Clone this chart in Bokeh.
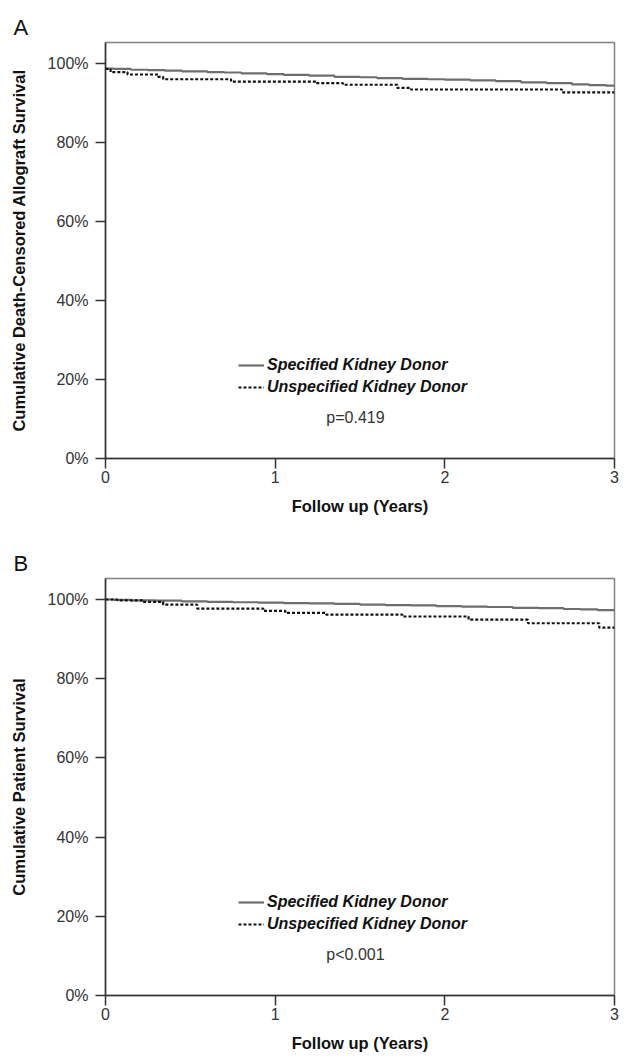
from bokeh.plotting import figure
from bokeh.layouts import column
from bokeh.models import (Range1d, FixedTicker, PrintfTickFormatter, Label,
                          Legend, LegendItem, Title)
from bokeh.embed import file_html
from bokeh.resources import INLINE

FONT = "Liberation Sans"

# ---------------- data (percent survival vs years) ----------------
x_ticks = [0, 1, 2, 3]
y_ticks = [0, 20, 40, 60, 80, 100]

# Panel A: death-censored allograft survival
a_spec_t = [0, 0.05, 0.15, 0.25, 0.35, 0.45, 0.6, 0.7, 0.8, 0.95, 1.05, 1.2, 1.35,
            1.5, 1.6, 1.75, 1.9, 2.0, 2.15, 2.3, 2.45, 2.6, 2.75, 2.85, 2.95, 3.0]
a_spec_s = [98.7, 98.6, 98.4, 98.3, 98.2, 98.0, 97.8, 97.7, 97.5, 97.3, 97.1, 96.9, 96.6,
            96.5, 96.3, 96.1, 96.0, 95.9, 95.7, 95.5, 95.2, 95.0, 94.7, 94.5, 94.4, 94.3]
a_unsp_t = [0, 0.03, 0.13, 0.31, 0.34, 0.74, 1.24, 1.40, 1.72, 1.80, 2.69, 3.0]
a_unsp_s = [98.6, 97.8, 97.2, 96.6, 96.0, 95.4, 95.0, 94.6, 93.8, 93.4, 92.7, 92.7]

# Panel B: patient survival
b_spec_t = [0, 0.05, 0.15, 0.3, 0.45, 0.6, 0.75, 0.9, 1.05, 1.2, 1.35, 1.5, 1.65,
            1.8, 1.95, 2.1, 2.25, 2.4, 2.55, 2.7, 2.8, 2.9, 3.0]
b_spec_s = [100, 99.9, 99.8, 99.7, 99.5, 99.4, 99.3, 99.2, 99.1, 99.0, 98.9, 98.7, 98.6,
            98.5, 98.3, 98.2, 98.1, 97.9, 97.8, 97.6, 97.5, 97.3, 97.2]
b_unsp_t = [0, 0.07, 0.22, 0.34, 0.54, 0.93, 1.06, 1.30, 1.75, 2.14, 2.49, 2.91, 3.0]
b_unsp_s = [100, 99.8, 99.4, 98.7, 97.7, 97.1, 96.6, 96.2, 95.7, 94.9, 94.0, 92.9, 92.9]

legend_labels = ["Specified Kidney Donor", "Unspecified Kidney Donor"]
x_title = "Follow up (Years)"


def make_panel(letter, ytitle, pval, spec_t, spec_s, unsp_t, unsp_s,
               height, top, bottom):
    p = figure(width=625, height=height, x_range=Range1d(0, 3),
               y_range=Range1d(0, 105.3), output_backend="svg",
               toolbar_location=None,
               min_border_left=105, min_border_right=11,
               min_border_top=top, min_border_bottom=bottom)
    p.title = Title(text=letter, align="left", offset=-92, standoff=6,
                    text_font=FONT, text_font_size="22px",
                    text_font_style="normal", text_color="#111111")
    p.xgrid.visible = False
    p.ygrid.visible = False
    p.outline_line_color = "#808080"
    p.outline_line_width = 1.5
    p.background_fill_color = "white"
    p.border_fill_color = "white"

    for ax in (p.xaxis[0], p.yaxis[0]):
        ax.axis_line_color = "#333333"
        ax.axis_line_width = 1.5
        ax.major_tick_line_color = "#333333"
        ax.major_tick_line_width = 1.5
        ax.major_tick_out = 10
        ax.major_tick_in = 0
        ax.minor_tick_out = 0
        ax.minor_tick_in = 0
        ax.major_label_text_font = FONT
        ax.major_label_text_font_size = "16px"
        ax.major_label_text_color = "#333333"
        ax.axis_label_text_font = FONT
        ax.axis_label_text_font_size = "16.5px"
        ax.axis_label_text_font_style = "bold"
        ax.axis_label_text_color = "#111111"

    p.xaxis.ticker = FixedTicker(ticks=x_ticks)
    p.xaxis.major_label_standoff = 2
    p.xaxis.axis_label = x_title
    p.xaxis.axis_label_standoff = 11

    p.yaxis.ticker = FixedTicker(ticks=y_ticks)
    p.yaxis.formatter = PrintfTickFormatter(format="%d%%")
    p.yaxis.major_label_standoff = 7
    p.yaxis.axis_label = ytitle
    p.yaxis.axis_label_standoff = 17

    r1 = p.step(spec_t, spec_s, mode="after", line_color="#6e6e6e",
                line_width=2.2)
    r2 = p.step(unsp_t, unsp_s, mode="after", line_color="#111111",
                line_width=2.2, line_dash="3 2")

    legend = Legend(items=[LegendItem(label=legend_labels[0], renderers=[r1]),
                           LegendItem(label=legend_labels[1], renderers=[r2])],
                    location=(133, 62))
    legend.label_text_font = FONT
    legend.label_text_font_style = "bold italic"
    legend.label_text_font_size = "16px"
    legend.label_text_color = "#111111"
    legend.glyph_width = 26
    legend.glyph_height = 18
    legend.label_height = 18
    legend.label_standoff = 3
    legend.spacing = 4
    legend.padding = 0
    legend.margin = 0
    legend.border_line_alpha = 0
    legend.background_fill_alpha = 0
    p.add_layout(legend)

    p.add_layout(Label(x=250, y=41, x_units="screen", y_units="screen",
                       text=pval, text_font=FONT, text_font_size="16px",
                       text_color="#333333", text_align="center",
                       text_baseline="middle"))
    return p


pA = make_panel("A", "Cumulative Death-Censored Allograft Survival", "p=0.419",
                a_spec_t, a_spec_s, a_unsp_t, a_unsp_s, 530, 42, 72)
pB = make_panel("B", "Cumulative Patient Survival", "p<0.001",
                b_spec_t, b_spec_s, b_unsp_t, b_unsp_s, 524, 48, 58)

layout = column(pA, pB, spacing=0)
open("out.html", "w").write(file_html(layout, INLINE))
